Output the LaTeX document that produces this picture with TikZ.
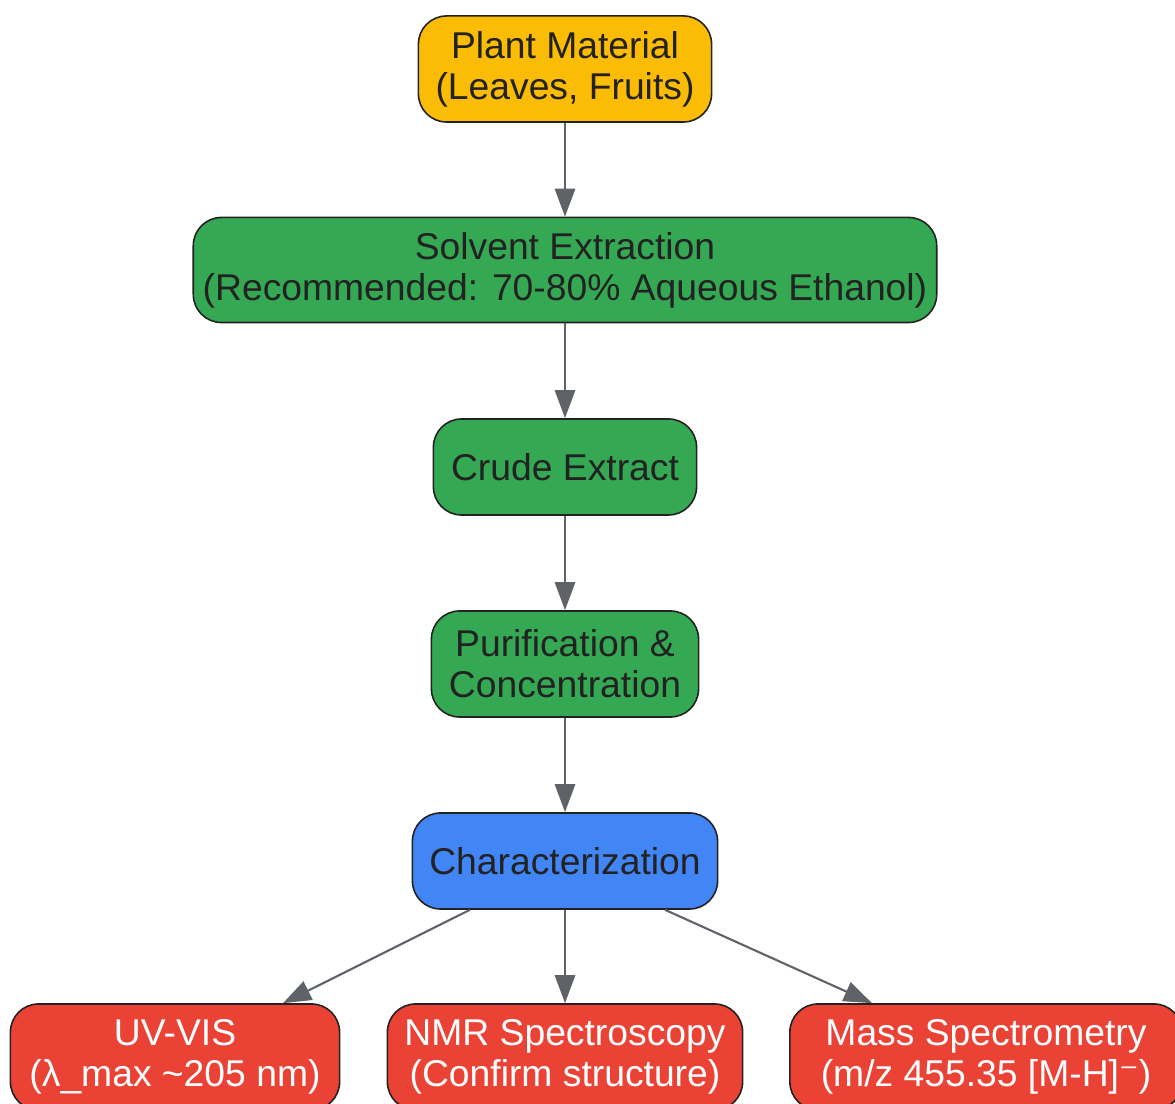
\documentclass[tikz,border=0pt]{standalone}
\usepackage{fontspec}
\setmainfont{Liberation Sans}
\newfontfamily\symfont{DejaVu Sans}
\usetikzlibrary{
  arrows.meta,
  calc,
}
\definecolor{cYel}{HTML}{FBBC05}
\definecolor{cGrn}{HTML}{34A853}
\definecolor{cBlu}{HTML}{4285F4}
\definecolor{cRed}{HTML}{EA4335}
\definecolor{cEdge}{HTML}{222222}
\definecolor{cArr}{HTML}{5F6368}

\tikzset{
  box/.style={draw=cEdge, line width=0.45pt, rounded corners=8pt, align=center,
      inner sep=0pt, text=cEdge,
      font=\fontsize{10.6pt}{11.7pt}\selectfont},
  flow/.style={draw=cArr, line width=0.6pt, -{Triangle[length=8pt,width=5.8pt]}},
}

\begin{document}
\begin{tikzpicture}[x=0.01cm,y=-0.01cm]
  \useasboundingbox (0,0) rectangle (1175,1104);

  \node[box, fill=cYel, minimum width=2.93cm, minimum height=1.06cm] (plant) at (565,69)
    {Plant Material\\(Leaves, Fruits)};
  \node[box, fill=cGrn, minimum width=7.43cm, minimum height=1.05cm] (solv) at (565,270)
    {Solvent Extraction\\(Recommended: 70-80\% Aqueous Ethanol)};
  \node[box, fill=cGrn, minimum width=2.63cm, minimum height=0.96cm] (crude) at (565,467)
    {Crude Extract};
  \node[box, fill=cGrn, minimum width=2.67cm, minimum height=1.06cm] (purif) at (565,664)
    {Purification \&\\Concentration};
  \node[box, fill=cBlu, minimum width=3.05cm, minimum height=0.96cm] (charz) at (565,861)
    {Characterization};

  \node[box, fill=cRed, text=white, minimum width=3.29cm, minimum height=1.06cm] (uvvis) at (175,1057)
    {UV-VIS\\(λ\_max \textasciitilde205 nm)};
  \node[box, fill=cRed, text=white, minimum width=3.55cm, minimum height=1.06cm] (nmr) at (565,1057)
    {NMR Spectroscopy\\(Confirm structure)};
  \node[box, fill=cRed, text=white, minimum width=3.92cm, minimum height=1.06cm] (mass) at (986,1057)
    {Mass Spectrometry\\(m/z 455.35 [M-H]{\symfont ⁻})};

  % main line
  \draw[flow] (plant) -- (solv);
  \draw[flow] (solv) -- (crude);
  \draw[flow] (crude) -- (purif);
  \draw[flow] (purif) -- (charz);

  % analyses
  \draw[flow] ($(charz.south)+(-95,0)$) -- ($(uvvis.north)+(108,0)$);
  \draw[flow] (charz) -- (nmr);
  \draw[flow] ($(charz.south)+(100,0)$) -- ($(mass.north)+(-114,0)$);
\end{tikzpicture}
\end{document}
